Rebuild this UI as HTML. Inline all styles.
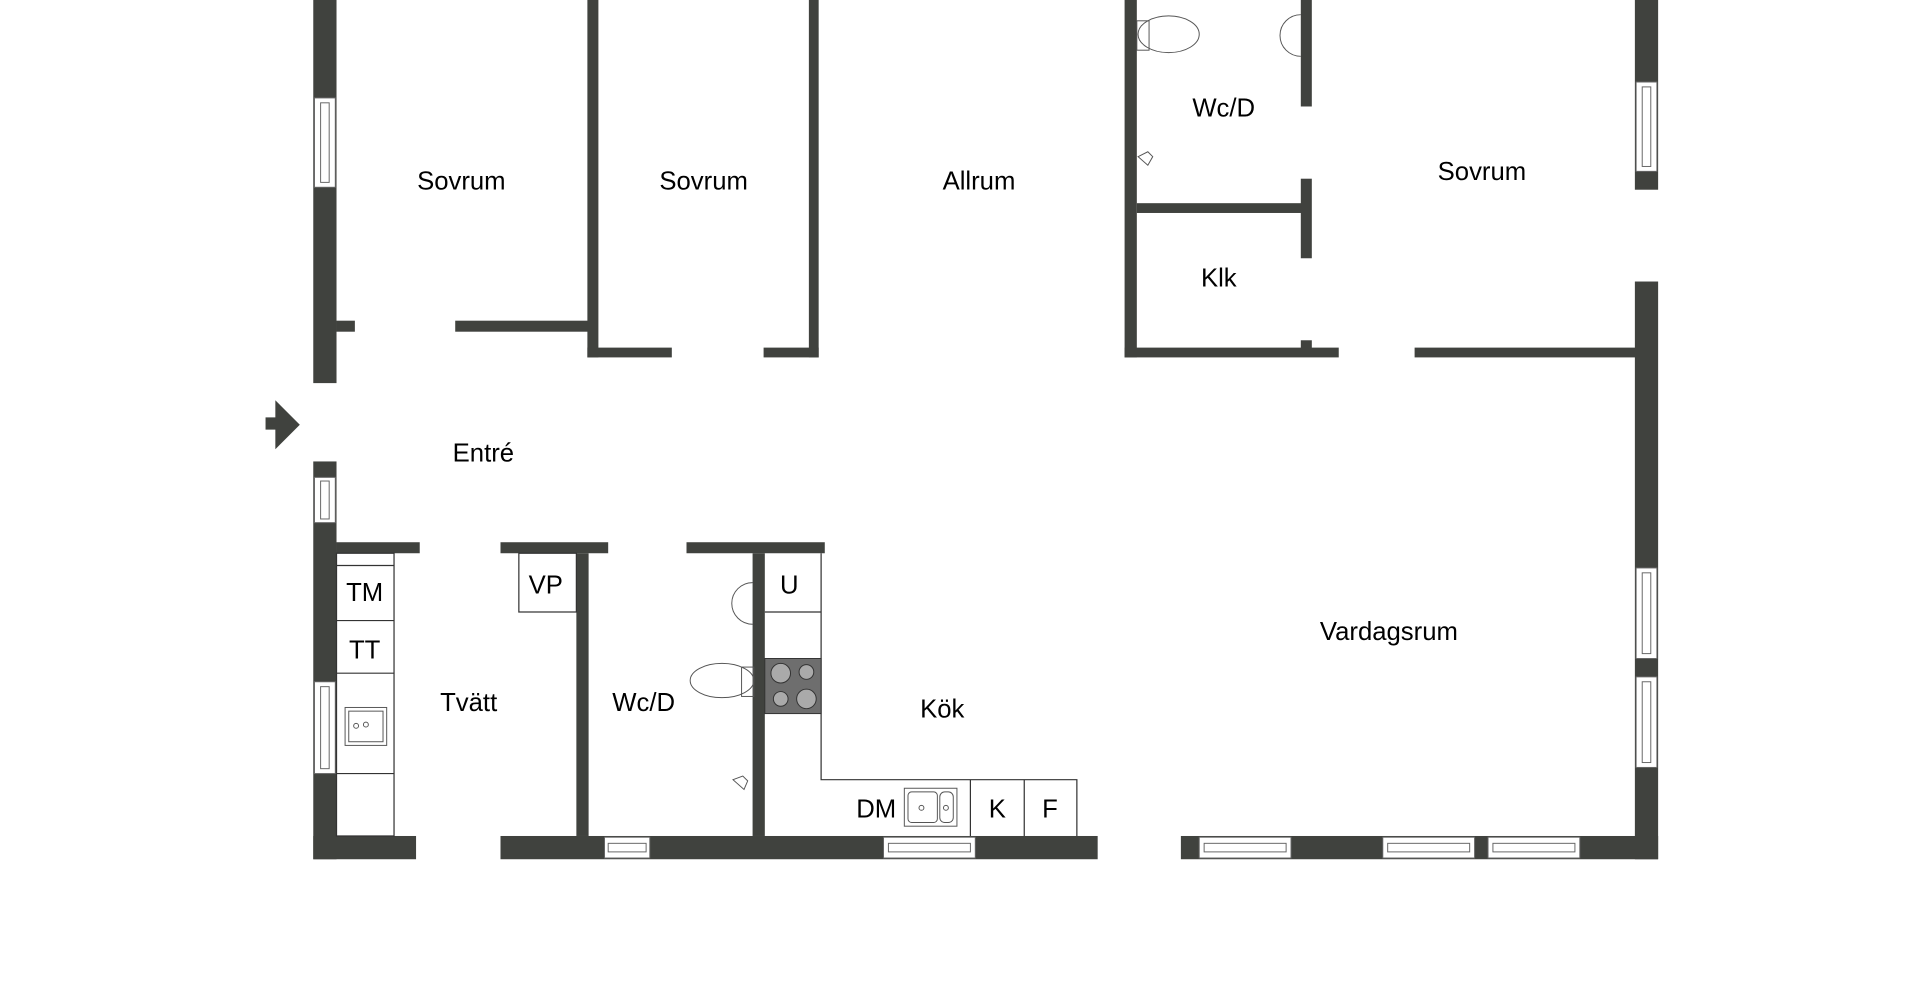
<!DOCTYPE html>
<html><head><meta charset="utf-8"><style>html,body{margin:0;padding:0;background:#fff}svg{display:block}</style></head>
<body>
<svg width="1920" height="1000" viewBox="0 0 1569 817" preserveAspectRatio="none" xmlns="http://www.w3.org/2000/svg">
<rect width="1569" height="817" fill="#fff"/>
<g fill="#40423e">
<rect x="256" y="0" width="19" height="313"/>
<rect x="275" y="262" width="15" height="9"/>
<rect x="256" y="377" width="19" height="325"/>
<rect x="217" y="341" width="9" height="10"/>
<polygon points="225,327 245,347 225,367"/>
<rect x="372" y="262" width="112" height="9"/>
<rect x="480" y="0" width="9" height="292"/>
<rect x="480" y="284" width="69" height="8"/>
<rect x="624" y="284" width="45" height="8"/>
<rect x="661" y="0" width="8" height="292"/>
<rect x="919" y="0" width="10" height="292"/>
<rect x="919" y="284" width="175" height="8"/>
<rect x="929" y="166" width="136" height="8"/>
<rect x="1063" y="0" width="9" height="87"/>
<rect x="1063" y="146" width="9" height="65"/>
<rect x="1063" y="278" width="9" height="8"/>
<rect x="1156" y="284" width="182" height="8"/>
<rect x="1336" y="0" width="19" height="155"/>
<rect x="1336" y="230" width="19" height="472"/>
<rect x="256" y="683" width="84" height="19"/>
<rect x="409" y="683" width="488" height="19"/>
<rect x="965" y="683" width="390" height="19"/>
<rect x="275" y="443" width="68" height="9"/>
<rect x="409" y="443" width="88" height="9"/>
<rect x="561" y="443" width="113" height="9"/>
<rect x="471" y="452" width="10" height="231"/>
<rect x="615" y="452" width="10" height="231"/>
</g>
<g fill="#fff" stroke="#666" stroke-width="0.8">
<rect x="257" y="80" width="17" height="73"/><rect x="262" y="84" width="7" height="65"/>
<rect x="257" y="390" width="17" height="37"/><rect x="262" y="393" width="7" height="31"/>
<rect x="257" y="557" width="17" height="75"/><rect x="262" y="561" width="7" height="67"/>
<rect x="1337" y="67" width="17" height="73"/><rect x="1342" y="71" width="7" height="65"/>
<rect x="1337" y="464" width="17" height="74"/><rect x="1342" y="468" width="7" height="66"/>
<rect x="1337" y="553" width="17" height="74"/><rect x="1342" y="557" width="7" height="66"/>
<rect x="494" y="684" width="37" height="17"/><rect x="497" y="689" width="31" height="7"/>
<rect x="722" y="684" width="75" height="17"/><rect x="726" y="689" width="67" height="7"/>
<rect x="980" y="684" width="75" height="17"/><rect x="984" y="689" width="67" height="7"/>
<rect x="1130" y="684" width="75" height="17"/><rect x="1134" y="689" width="67" height="7"/>
<rect x="1216" y="684" width="75" height="17"/><rect x="1220" y="689" width="67" height="7"/>
</g>
<g fill="none" stroke="#333" stroke-width="1">
<rect x="275" y="452" width="47" height="231"/>
<line x1="275" y1="462" x2="322" y2="462"/>
<line x1="275" y1="507" x2="322" y2="507"/>
<line x1="275" y1="550" x2="322" y2="550"/>
<line x1="275" y1="632" x2="322" y2="632"/>
<rect x="424" y="452" width="47" height="48"/>
<polyline points="671,452 671,637 880,637 880,683"/>
<line x1="625" y1="500" x2="671" y2="500"/>
<line x1="793" y1="637" x2="793" y2="683"/>
<line x1="837" y1="637" x2="837" y2="683"/>
</g>
<rect x="625" y="538" width="46" height="45" fill="#6e6e6e" stroke="#333" stroke-width="0.8"/>
<g fill="#aaa" stroke="#333" stroke-width="0.8">
<circle cx="638" cy="550" r="8"/><circle cx="659" cy="549" r="6"/>
<circle cx="638" cy="571" r="6"/><circle cx="659" cy="571" r="8"/>
</g>
<g fill="none" stroke="#555" stroke-width="0.8">
<rect x="282" y="578" width="34" height="31"/><rect x="285" y="581" width="28" height="25"/>
<circle cx="291" cy="593" r="2"/><circle cx="299" cy="592" r="2"/>
<rect x="739" y="644" width="43" height="31"/><rect x="742" y="647" width="24" height="25" rx="3"/><rect x="768" y="647" width="11" height="25" rx="4"/>
<circle cx="753" cy="660" r="2"/><circle cx="773" cy="660" r="2"/>
<ellipse cx="590" cy="556" rx="26" ry="14"/><rect x="606" y="545" width="10" height="24"/>
<path d="M615,476 A17,17 0 1,0 615,510"/>
<ellipse cx="955" cy="28" rx="25" ry="15"/><rect x="929" y="17" width="10" height="24"/>
<path d="M1063,12 A17,17 0 1,0 1063,46"/>
<path d="M599,637 l8,-3 l4,4 l-3,7 z M930,128 l8,-4 l4,4 l-4,7 z"/>
</g>
<g font-family="Liberation Sans, Arial, sans-serif" font-size="21" fill="#000" text-anchor="middle">
<text x="377" y="155">Sovrum</text>
<text x="575" y="155">Sovrum</text>
<text x="800" y="155">Allrum</text>
<text x="1000" y="95">Wc/D</text>
<text x="1211" y="147">Sovrum</text>
<text x="996" y="234">Klk</text>
<text x="395" y="377">Entré</text>
<text x="1135" y="523">Vardagsrum</text>
<text x="383" y="581">Tvätt</text>
<text x="526" y="581">Wc/D</text>
<text x="770" y="586">Kök</text>
<text x="298" y="491">TM</text>
<text x="298" y="538">TT</text>
<text x="446" y="485">VP</text>
<text x="645" y="485">U</text>
<text x="716" y="668">DM</text>
<text x="815" y="668">K</text>
<text x="858" y="668">F</text>
</g>
</svg>
</body></html>
